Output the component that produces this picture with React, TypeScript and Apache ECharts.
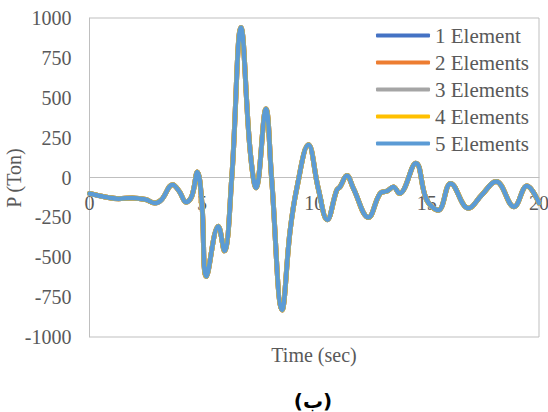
import React, { useEffect, useRef } from "react";
import * as echarts from "echarts";

// Time in seconds and axial load P (Ton)
const timeSec = [
  0, 0.7, 1.3, 1.9, 2.5, 2.9, 3.2, 3.7, 4.0, 4.3, 4.55, 4.8, 5.0, 5.2, 5.73, 6.0,
  6.33, 6.74, 7.14, 7.41, 7.85, 8.1, 8.57, 8.92, 9.22, 9.74, 10.18, 10.58, 11.0,
  11.15, 11.45, 11.74, 12.41, 12.93, 13.25, 13.52, 13.79, 14.52, 15.0, 15.52,
  16.07, 16.86, 17.45, 18.09, 18.89, 19.46, 20.0,
];
const loadTon = [
  -100, -122, -133, -128, -138, -160, -140, -45, -88, -155, -118, 35, -160, -620,
  -305, -460, 0, 940, 180, -65, 430, 0, -830, -340, -70, 205, -70, -265, -80, -58,
  12, -68, -250, -100, -85, -60, -100, 90, -140, -205, -37, -193, -110, -25, -183,
  -53, -160,
];

const seriesNames = ["1 Element", "2 Elements", "3 Elements", "4 Elements", "5 Elements"];
const seriesColors = ["#4472C4", "#ED7D31", "#A5A5A5", "#FFC000", "#5B9BD5"];
const yTicks = [-1000, -750, -500, -250, 0, 250, 500, 750, 1000];
const xTicks = [0, 5, 10, 15, 20];

const FONT = "Liberation Serif";
const GREY = "#595959";

const GRID_TOP = 18;
const GRID_BOTTOM = 75;
const GRID_H = 412 - GRID_TOP - GRID_BOTTOM;

export default function App() {
  const ref = useRef<HTMLDivElement>(null);

  useEffect(() => {
    if (!ref.current) return;
    const chart = echarts.init(ref.current, undefined, { renderer: "svg" });
    const points = timeSec.map((t, i) => [t, loadTon[i]]);

    chart.setOption({
      animation: false,
      backgroundColor: "#ffffff",
      grid: {
        left: 89.5,
        right: 9,
        top: GRID_TOP,
        bottom: GRID_BOTTOM,
        containLabel: false,
        outerBoundsMode: "none",
        show: true,
        borderColor: "#bfbfbf",
        borderWidth: 1,
      },
      legend: {
        orient: "vertical",
        left: 376,
        top: 25,
        padding: 0,
        itemGap: 6,
        itemWidth: 54,
        itemHeight: 4,
        icon: "roundRect",
        data: seriesNames,
        textStyle: { fontFamily: FONT, fontSize: 21, color: GREY },
      },
      xAxis: {
        type: "value",
        min: xTicks[0],
        max: xTicks[xTicks.length - 1],
        interval: 5,
        // the axis crosses the load axis at P = 0
        offset: -GRID_H / 2,
        axisLine: { show: true, onZero: false, lineStyle: { color: "#bfbfbf", width: 1 } },
        axisTick: { show: false },
        splitLine: { show: false },
        axisLabel: {
          fontFamily: FONT,
          fontSize: 20,
          color: GREY,
          margin: 15,
          showMinLabel: true,
          showMaxLabel: true,
          formatter: (v: number) => String(v),
        },
      },
      yAxis: {
        type: "value",
        min: yTicks[0],
        max: yTicks[yTicks.length - 1],
        interval: 250,
        axisLine: { show: true, onZero: false, lineStyle: { color: "#bfbfbf", width: 1 } },
        axisTick: { show: false },
        splitLine: { show: false },
        axisLabel: {
          fontFamily: FONT,
          fontSize: 20,
          color: GREY,
          margin: 18,
          formatter: (v: number) => String(v),
        },
      },
      graphic: [
        {
          type: "text",
          x: 14,
          y: 178,
          rotation: Math.PI / 2,
          style: {
            text: "P (Ton)",
            fontFamily: FONT,
            fontSize: 20,
            fill: GREY,
            align: "center",
            verticalAlign: "middle",
          },
        },
        {
          type: "text",
          x: 314,
          y: 355,
          style: {
            text: "Time (sec)",
            fontFamily: FONT,
            fontSize: 20,
            fill: GREY,
            align: "center",
            verticalAlign: "middle",
          },
        },
        {
          type: "text",
          x: 313,
          y: 401,
          style: {
            text: "(ب)",
            fontFamily: "DejaVu Sans",
            fontWeight: "bold",
            fontSize: 20,
            fill: "#000000",
            align: "center",
            verticalAlign: "middle",
          },
        },
      ],
      series: seriesNames.map((name, i) => ({
        name,
        type: "line",
        data: points,
        smooth: 0.4,
        showSymbol: false,
        symbol: "none",
        z: 2 + i,
        lineStyle: { color: seriesColors[i], width: i === 4 ? 4.5 : 5, cap: "round", join: "round" },
        itemStyle: { color: seriesColors[i] },
      })),
    });

    return () => chart.dispose();
  }, []);

  return <div ref={ref} style={{ width: 548, height: 412, position: "absolute", left: 0, top: 0 }} />;
}
